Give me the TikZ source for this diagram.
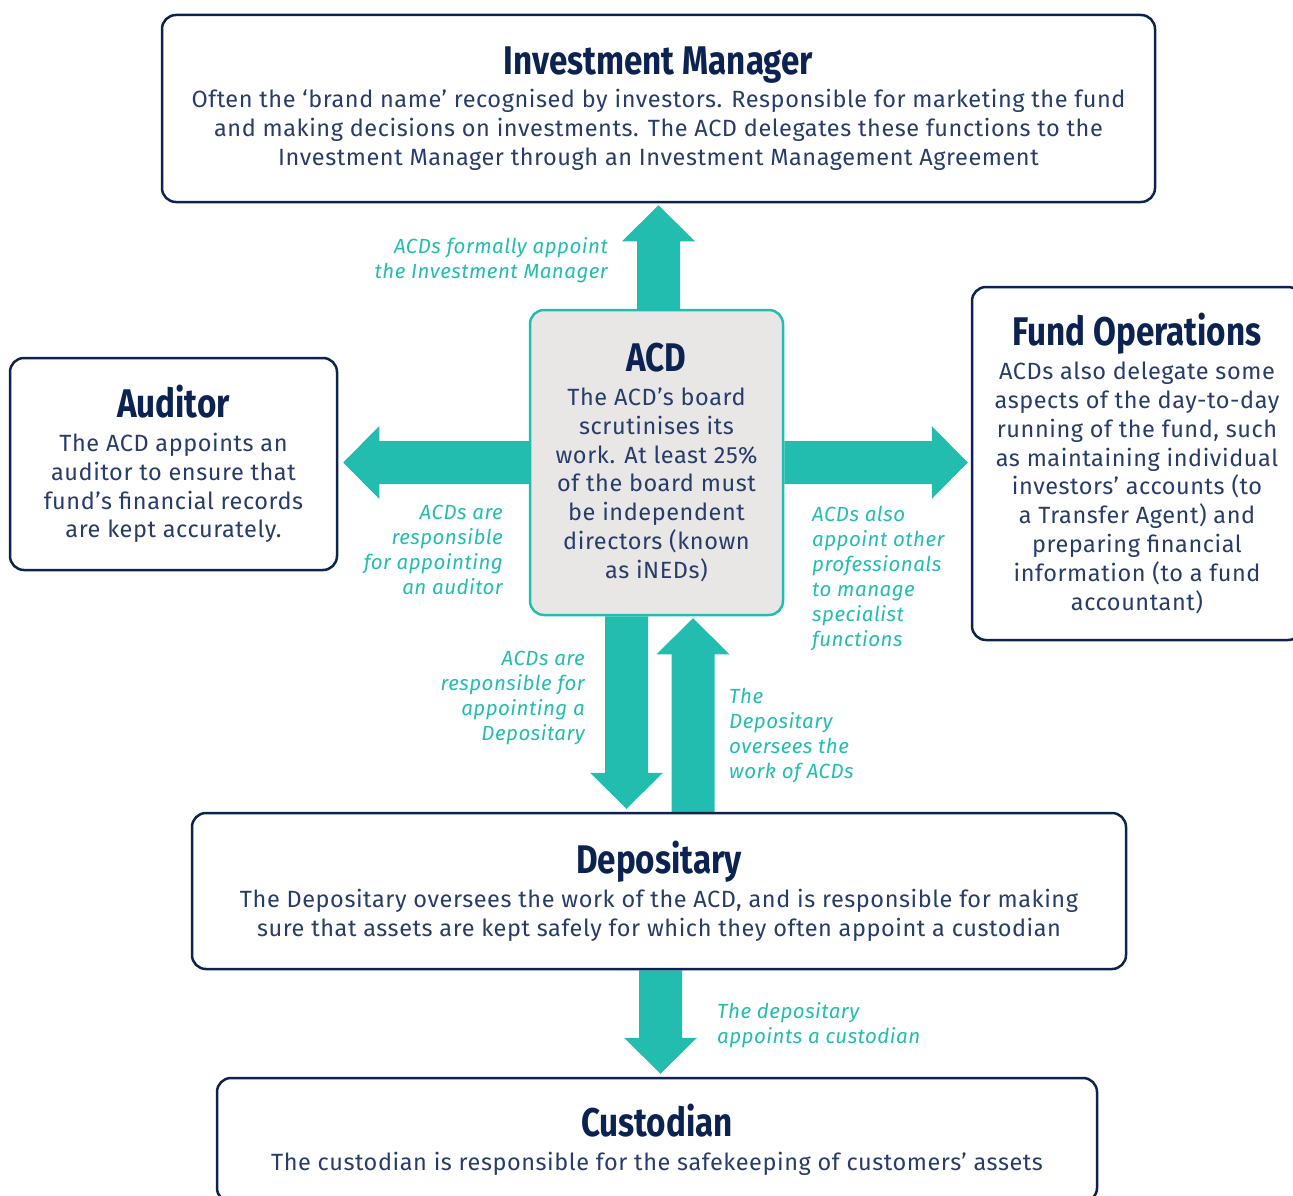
\documentclass[tikz,border=0pt]{standalone}
\usepackage{fontspec}
\setmainfont{Fira Sans}[LetterSpace=2.4]
\newfontfamily\titlefam[FakeStretch=0.83]{Fira Sans}
\usetikzlibrary{calc}
\definecolor{navy}{RGB}{12,35,82}
\definecolor{bodyc}{RGB}{40,60,106}
\definecolor{tealc}{RGB}{35,189,176}
\definecolor{acdfill}{RGB}{232,231,230}
\newcommand\bodyf{\fontsize{23.5}{28.8}\selectfont}
\newcommand\labf{\itshape\fontsize{20.5}{25}\selectfont}
\newcommand\ttl[1]{{\titlefam\bfseries\fontsize{40}{40}\selectfont\color{navy}#1}}
\pgfdeclarelayer{bg}
\pgfsetlayers{bg,main}
% block arrows: #1 start (base), #2 tip
\newcommand\arrup[2]{\fill[arr] let \p1=(#1),\p2=(#2) in
 (\x1-21.5pt,\y1) -- (\x1-21.5pt,\y2-36pt) -- (\x1-36.5pt,\y2-36pt) -- (\x1,\y2)
 -- (\x1+36.5pt,\y2-36pt) -- (\x1+21.5pt,\y2-36pt) -- (\x1+21.5pt,\y1) -- cycle;}
\newcommand\arrdown[2]{\fill[arr] let \p1=(#1),\p2=(#2) in
 (\x1-21.5pt,\y1) -- (\x1-21.5pt,\y2+36pt) -- (\x1-36.5pt,\y2+36pt) -- (\x1,\y2)
 -- (\x1+36.5pt,\y2+36pt) -- (\x1+21.5pt,\y2+36pt) -- (\x1+21.5pt,\y1) -- cycle;}
\newcommand\arrleft[2]{\fill[arr] let \p1=(#1),\p2=(#2) in
 (\x1,\y1-21.5pt) -- (\x2+36pt,\y1-21.5pt) -- (\x2+36pt,\y1-36.5pt) -- (\x2,\y1)
 -- (\x2+36pt,\y1+36.5pt) -- (\x2+36pt,\y1+21.5pt) -- (\x1,\y1+21.5pt) -- cycle;}
\newcommand\arrright[2]{\fill[arr] let \p1=(#1),\p2=(#2) in
 (\x1,\y1-21.5pt) -- (\x2-36pt,\y1-21.5pt) -- (\x2-36pt,\y1-36.5pt) -- (\x2,\y1)
 -- (\x2-36pt,\y1+36.5pt) -- (\x2-36pt,\y1+21.5pt) -- (\x1,\y1+21.5pt) -- cycle;}
\begin{document}
\begin{tikzpicture}[x=1pt,y=-1pt,
  box/.style={draw=navy, line width=2.5pt, rounded corners=14pt, fill=white,
    align=center, inner sep=0pt, font=\bodyf, text=bodyc},
  acdbox/.style={box, draw=tealc, fill=acdfill},
  lab/.style={text=tealc, font=\labf, inner sep=0pt},
  arr/.style={fill=tealc, draw=none}]
\useasboundingbox (0,0) rectangle (1293,1196);
\clip (0,0) rectangle (1293,1196);

\node[box, minimum width=993pt, minimum height=187pt] (im) at (658.5,108.5)
 {\ttl{Investment Manager}\\[5pt]
  Often the ‘brand name’ recognised by investors. Responsible for marketing the fund\\
  and making decisions on investments. The ACD delegates these functions to the\\
  Investment Manager through an Investment Management Agreement};

\node[box, minimum width=327pt, minimum height=212pt] (aud) at (173.5,464)
 {\ttl{Auditor}\\[5pt]
  The ACD appoints an\\ auditor to ensure that\\ fund’s financial records\\ are kept accurately.};

\node[box, minimum width=330pt, minimum height=353pt] (fo) at (1137,463.5)
 {\ttl{Fund Operations}\\[5pt]
  ACDs also delegate some\\ aspects of the day-to-day\\ running of the fund, such\\
  as maintaining individual\\ investors’ accounts (to\\ a Transfer Agent) and\\
  preparing financial\\ information (to a fund\\ accountant)};

\node[acdbox, minimum width=253pt, minimum height=305pt] (acd) at (656.5,462.5)
 {\ttl{ACD}\\[5pt]
  The ACD’s board\\ scrutinises its\\ work. At least 25\%\\ of the board must\\
  be independent\\ directors (known\\ as iNEDs)};

\node[box, minimum width=934pt, minimum height=156pt] (dep) at (659,891)
 {\ttl{Depositary}\\[5pt]
  The Depositary oversees the work of the ACD, and is responsible for making\\
  sure that assets are kept safely for which they often appoint a custodian};

\node[box, minimum width=880pt, minimum height=124pt] (cust) at (657,1140)
 {\ttl{Custodian}\\[5pt]
  The custodian is responsible for the safekeeping of customers’ assets};

\begin{pgfonlayer}{bg}
\arrup{$(acd.north)+(2,0)$}{$(im.south)+(0,2)$}
\arrleft{acd.west}{$(aud.east)+(5,0)$}
\arrright{acd.east}{$(fo.west)+(-3,0)$}
\arrdown{$(acd.south)+(-30,0)$}{$(dep.north)+(0,-3)$}
\arrup{$(dep.north)+(34,0)$}{$(acd.south)+(0,2)$}
\arrdown{$(dep.south)+(1.5,0)$}{$(cust.north)+(0,-3)$}
\end{pgfonlayer}

\node[lab, align=right, anchor=north east] (l1) at (608,237)
 {ACDs formally appoint\\ the Investment Manager};
\node[lab, align=right, anchor=north east] (l2) at (503,505)
 {ACDs are\\ responsible\\ for appointing\\ an auditor};
\node[lab, align=left, anchor=north west] (l3) at (812,506)
 {ACDs also\\ appoint other\\ professionals\\ to manage\\ specialist\\ functions};
\node[lab, align=right, anchor=north east] (l4) at (585,651)
 {ACDs are\\ responsible for\\ appointing a\\ Depositary};
\node[lab, align=left, anchor=north west] (l5) at (729,688)
 {The\\ Depositary\\ oversees the\\ work of ACDs};
\node[lab, align=left, anchor=north west] (l6) at (717,1002)
 {The depositary\\ appoints a custodian};
\end{tikzpicture}
\end{document}
